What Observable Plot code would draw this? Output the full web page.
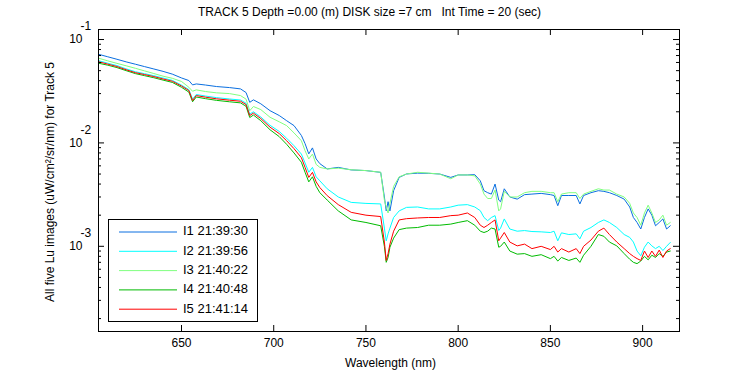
<!DOCTYPE html>
<html>
<head>
<meta charset="utf-8">
<script src="https://cdn.jsdelivr.net/npm/d3@7"></script>
<script src="https://cdn.jsdelivr.net/npm/@observablehq/plot@0.6"></script>
<style>
  html, body { margin: 0; padding: 0; background: white; }
  svg { display: block; }
</style>
</head>
<body>
<div id="chart"></div>
<script>
const titleText = "TRACK 5 Depth =0.00 (m) DISK size =7 cm   Int Time = 20 (sec)";
const xLabel = "Wavelength (nm)";
const yLabel = "All five Lu images (uW/cm²/sr/nm) for Track 5";
const seriesNames = ["I1 21:39:30", "I2 21:39:56", "I3 21:40:22", "I4 21:40:48", "I5 21:41:14"];
const seriesColors = ["#0a6fe0", "#00ffff", "#80ff80", "#00bb00", "#ff0000"];
const xTicks = [650, 700, 750, 800, 850, 900];
const yMajor = [0.1, 0.01, 0.001];
const yMajorExp = ["-1", "-2", "-3"];
const yMinor = [2e-4,3e-4,4e-4,5e-4,6e-4,7e-4,8e-4,9e-4,2e-3,3e-3,4e-3,5e-3,6e-3,7e-3,8e-3,9e-3,2e-2,3e-2,4e-2,5e-2,6e-2,7e-2,8e-2,9e-2];

const wavelength = [605,610,615,620,625,630,635,640,645,650,654,656,658,663,669,676,682,685,687,689,693,698,703,707,711,715,717,719,721,723,725,729,735,742,750,758,760,761,762,763,765,768,772,778,784,790,796,800,805,809,812,814,816,818,820,822,823,825,828,832,836,840,845,850,852,854,856,860,864,866,868,872,876,879,882,886,890,893,895,897,899,901,903,905,907,909,911,913,915];

const I1 = [0.072,0.0681,0.0644,0.0608,0.0577,0.0547,0.0519,0.0492,0.0463,0.0425,0.0401,0.0364,0.0372,0.0363,0.0351,0.0343,0.0333,0.0307,0.0247,0.0261,0.0239,0.0205,0.0184,0.0164,0.0147,0.0118,0.00984,0.00783,0.00895,0.0070,0.0063,0.0056,0.0058,0.00548,0.0054,0.00519,0.0030,0.0022,0.0027,0.0022,0.00345,0.00464,0.00501,0.0051,0.00508,0.0050,0.00464,0.0049,0.0049,0.00493,0.0043,0.00345,0.0033,0.0032,0.0040,0.0028,0.0027,0.0036,0.0030,0.00286,0.00316,0.0032,0.00325,0.00316,0.0031,0.00247,0.0031,0.0031,0.0031,0.00257,0.0031,0.0033,0.00345,0.0034,0.0033,0.0031,0.00286,0.0024,0.0019,0.0017,0.00147,0.0019,0.0023,0.0020,0.00158,0.0017,0.00184,0.00147,0.00158];

const I2 = [0.0625,0.059,0.056,0.052,0.0488,0.0467,0.0447,0.0424,0.0403,0.0362,0.0328,0.0265,0.0294,0.0284,0.0274,0.0266,0.026,0.0242,0.019,0.020,0.0178,0.0148,0.0129,0.0111,0.0094,0.0078,0.0064,0.0052,0.0058,0.0047,0.0043,0.0036,0.0030,0.00266,0.0026,0.00257,0.0015,0.00113,0.00132,0.0015,0.0019,0.0022,0.00238,0.0024,0.0023,0.0023,0.0024,0.0025,0.00253,0.0024,0.00221,0.0019,0.00177,0.0019,0.00198,0.00142,0.0015,0.00184,0.00147,0.0014,0.00142,0.00139,0.00138,0.00136,0.0014,0.00113,0.00135,0.0013,0.00132,0.00118,0.0014,0.00152,0.0017,0.0018,0.0017,0.00152,0.0013,0.00122,0.0011,0.0009,0.00081,0.00098,0.0011,0.00101,0.00095,0.001,0.00091,0.001,0.00109];

const I3 = [0.066,0.0622,0.0588,0.0557,0.0527,0.0497,0.0469,0.0442,0.0422,0.0393,0.0345,0.0316,0.0326,0.0314,0.0305,0.030,0.0287,0.0265,0.0205,0.0225,0.021,0.0177,0.016,0.0147,0.0125,0.0105,0.0084,0.0070,0.0078,0.0062,0.0058,0.0056,0.0057,0.0055,0.0054,0.0052,0.0028,0.0024,0.0021,0.0026,0.0038,0.0047,0.0050,0.0052,0.0051,0.0050,0.0045,0.0049,0.0049,0.0048,0.0040,0.0032,0.0029,0.0029,0.0035,0.0022,0.0023,0.0034,0.0030,0.0030,0.0033,0.0034,0.0034,0.0033,0.0033,0.0027,0.0032,0.0033,0.0033,0.0029,0.0032,0.0034,0.0036,0.0035,0.0035,0.0032,0.0030,0.0026,0.0021,0.0019,0.0016,0.0021,0.0025,0.0021,0.0017,0.0018,0.0020,0.0016,0.0017];

const I4 = [0.059,0.0565,0.0535,0.050,0.0468,0.0447,0.0427,0.0405,0.0385,0.0345,0.0310,0.0250,0.0278,0.0268,0.0258,0.0250,0.0244,0.0226,0.0176,0.0186,0.0164,0.0134,0.0115,0.0097,0.0080,0.0065,0.0052,0.0042,0.0047,0.0038,0.0033,0.0028,0.0022,0.0018,0.0017,0.00158,0.0010,0.0007,0.00078,0.00098,0.0012,0.00145,0.0015,0.00152,0.0016,0.0016,0.00164,0.0017,0.00177,0.0016,0.0014,0.00136,0.0014,0.0015,0.00147,0.00098,0.0010,0.0011,0.0009,0.00084,0.00085,0.0008,0.00083,0.00076,0.0008,0.00072,0.00078,0.00073,0.00077,0.0007,0.00082,0.001,0.0013,0.00125,0.0011,0.00101,0.00085,0.00075,0.0007,0.00068,0.00072,0.0008,0.00074,0.00082,0.00078,0.00085,0.0008,0.00088,0.0009];

const I5 = [0.061,0.0578,0.0548,0.051,0.0478,0.0458,0.0438,0.0415,0.0395,0.0355,0.0321,0.0257,0.0287,0.0277,0.0267,0.0259,0.0253,0.0235,0.0184,0.0194,0.0172,0.0142,0.0123,0.0105,0.0088,0.0072,0.0058,0.00464,0.00519,0.0042,0.0037,0.00309,0.00253,0.00213,0.0020,0.00194,0.0011,0.00073,0.00085,0.00105,0.0014,0.0018,0.00185,0.00188,0.0019,0.0019,0.00198,0.0020,0.0021,0.0019,0.0016,0.00152,0.0016,0.0017,0.0018,0.00113,0.0012,0.00136,0.0011,0.00101,0.00105,0.00095,0.0010,0.00093,0.0010,0.00088,0.00095,0.00088,0.00095,0.00085,0.0010,0.00115,0.0014,0.0015,0.0013,0.0011,0.00095,0.00085,0.0008,0.00076,0.00073,0.0009,0.00078,0.0009,0.0008,0.00092,0.00078,0.0009,0.00095];

const seriesValues = [I1, I2, I3, I4, I5];
const rows = [];
seriesValues.forEach((vals, i) => {
  vals.forEach((v, j) => rows.push({wl: wavelength[j], v, s: seriesNames[i]}));
});

const W = 750, H = 375;
const mL = 98, mR = 71, mT = 29, mB = 44;
const fw = W - mL - mR, fh = H - mT - mB;
const font = "'Liberation Sans', Arial, Helvetica, sans-serif";

const svg = Plot.plot({
  width: W, height: H,
  marginLeft: mL, marginRight: mR, marginTop: mT, marginBottom: mB,
  style: {fontFamily: font, fontSize: "12px", background: "white", color: "black"},
  x: {domain: [605, 920], axis: null},
  y: {type: "log", domain: [1.5e-4, 0.125], axis: null},
  color: {domain: seriesNames, range: seriesColors},
  marks: [
    Plot.line(rows, {x: "wl", y: "v", z: "s", stroke: "s", strokeWidth: 1}),
    Plot.frame({stroke: "black", strokeWidth: 1}),
    Plot.ruleX(xTicks, {x: d => d, insetTop: fh - 6, stroke: "black"}),
    Plot.ruleX(xTicks, {x: d => d, insetBottom: fh - 6, stroke: "black"}),
    Plot.ruleY(yMajor, {y: d => d, insetRight: fw - 6, stroke: "black"}),
    Plot.ruleY(yMajor, {y: d => d, insetLeft: fw - 6, stroke: "black"}),
    Plot.ruleY(yMinor, {y: d => d, insetRight: fw - 3, stroke: "black"}),
    Plot.ruleY(yMinor, {y: d => d, insetLeft: fw - 3, stroke: "black"}),
    Plot.text(xTicks, {x: d => d, frameAnchor: "bottom", dy: 15, text: d => String(d), fill: "black", fontSize: 12}),
    Plot.text(yMajor, {y: d => d, frameAnchor: "left", dx: -16, textAnchor: "end", text: () => "10", fill: "black", fontSize: 12}),
    Plot.text(yMajor, {y: d => d, frameAnchor: "left", dx: -18, dy: -13, textAnchor: "start", text: (d, i) => yMajorExp[i], fill: "black", fontSize: 12})
  ]
});

const g = d3.select(svg).append("g").attr("font-family", font).attr("font-size", 12).attr("fill", "black").attr("text-anchor", "start");
g.append("text").attr("x", 198).attr("y", 13).attr("text-anchor", "start").attr("dominant-baseline", "middle").text(titleText);
g.append("text").attr("x", mL + fw / 2 + 2).attr("y", 364).attr("text-anchor", "middle").attr("dominant-baseline", "middle").text(xLabel);
g.append("text").attr("transform", `translate(51,${mT + fh / 2 + 2}) rotate(-90)`).attr("text-anchor", "middle").attr("dominant-baseline", "middle").text(yLabel);

const leg = g.append("g");
leg.append("rect").attr("x", 108.5).attr("y", 219.5).attr("width", 149).attr("height", 102).attr("fill", "white").attr("stroke", "black");
seriesNames.forEach((name, i) => {
  const yy = 232 + i * 19.3;
  leg.append("line").attr("x1", 119).attr("x2", 177).attr("y1", yy).attr("y2", yy).attr("stroke", seriesColors[i]).attr("stroke-width", 1);
  leg.append("text").attr("x", 183).attr("y", yy).attr("text-anchor", "start").attr("dominant-baseline", "middle").attr("font-size", 13).text(name);
});

document.getElementById("chart").appendChild(svg);
</script>
</body>
</html>
